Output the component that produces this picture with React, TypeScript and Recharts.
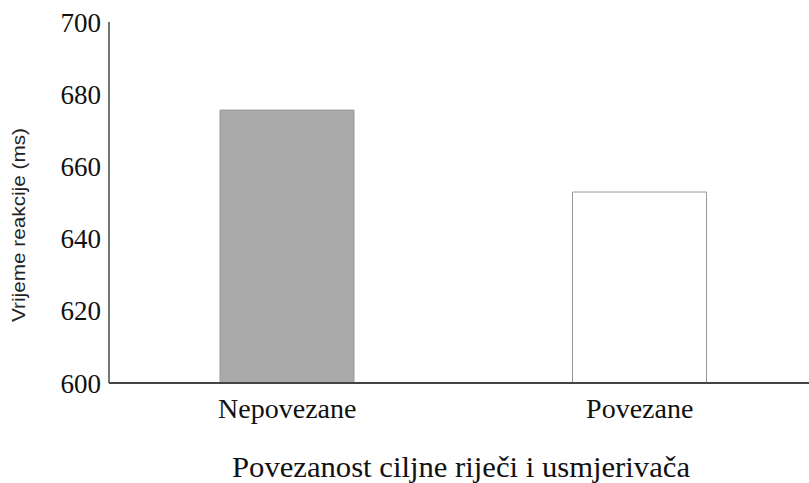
import { BarChart, Bar, XAxis, YAxis, Cell } from 'recharts'

const categories = ['Nepovezane', 'Povezane']
const reactionTimes = [675.6, 652.9]
const yTicks = [600, 620, 640, 660, 680, 700]
const barFills = ['#aaaaaa', '#ffffff']

const xTitle = 'Povezanost ciljne riječi i usmjerivača'
const yTitle = 'Vrijeme reakcije (ms)'

const data = categories.map((name, i) => ({ name, rt: reactionTimes[i] }))

const serif = '"Liberation Serif", "Times New Roman", serif'

const YTitle = () => (
  <text
    x={18}
    y={225}
    transform="rotate(-90 18 225)"
    textAnchor="middle"
    dominantBaseline="central"
    fontFamily='"Liberation Sans", Arial, sans-serif'
    fontSize={19}
    fill="#222"
    textLength={194}
    lengthAdjust="spacingAndGlyphs"
  >
    {yTitle}
  </text>
)

const XTitle = () => (
  <text
    x={461}
    y={477}
    textAnchor="middle"
    fontFamily={serif}
    fontSize={29}
    fill="#111"
    textLength={458}
    lengthAdjust="spacingAndGlyphs"
  >
    {xTitle}
  </text>
)

export default function App() {
  return (
    <div style={{ position: 'absolute', left: 0, top: 0, width: 809, height: 483, overflow: 'hidden', background: '#fff' }}>
      <BarChart
        width={816}
        height={483}
        data={data}
        margin={{ top: 22, right: 0, bottom: 0, left: 0 }}
        barSize={134}
      >
        <XAxis
          dataKey="name"
          height={100}
          tickLine={false}
          axisLine={{ stroke: '#444', strokeWidth: 2 }}
          tick={{ fontFamily: serif, fontSize: 28, fill: '#111' }}
          tickMargin={9}
          padding={{ left: 2, right: 0 }}
          label={<XTitle />}
        />
        <YAxis
          width={109}
          domain={[600, 700]}
          ticks={yTicks}
          allowDataOverflow
          tickLine={false}
          axisLine={{ stroke: '#444', strokeWidth: 1.5 }}
          tick={{ fontFamily: serif, fontSize: 27, fill: '#111' }}
          label={<YTitle />}
        />
        <Bar dataKey="rt" stroke="#999" strokeWidth={1} isAnimationActive={false}>
          {data.map((d, i) => (
            <Cell key={d.name} fill={barFills[i]} />
          ))}
        </Bar>
      </BarChart>
    </div>
  )
}
